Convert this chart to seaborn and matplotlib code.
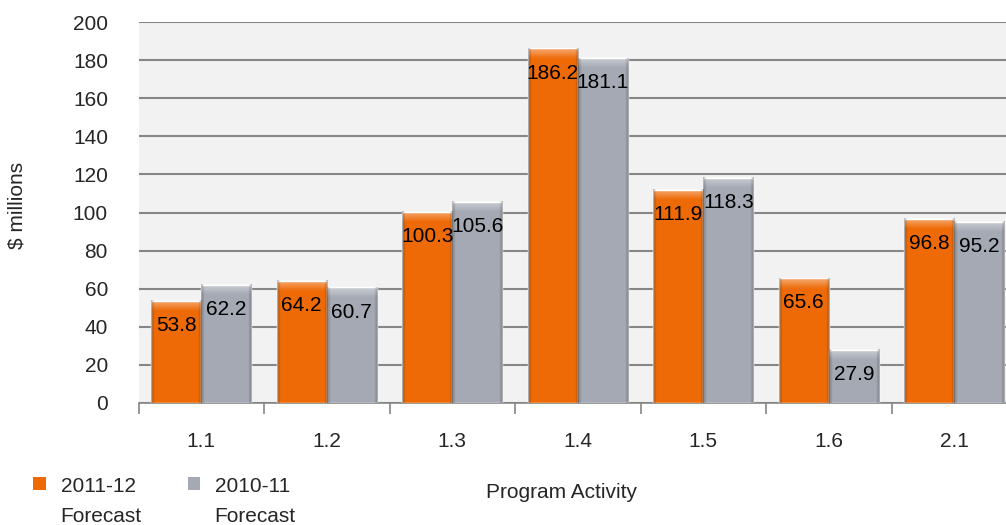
import numpy as np
import pandas as pd
import seaborn as sns
import matplotlib.pyplot as plt
from matplotlib.patches import Patch

activities = ['1.1', '1.2', '1.3', '1.4', '1.5', '1.6', '2.1']
forecast_2011_12 = [53.8, 64.2, 100.3, 186.2, 111.9, 65.6, 96.8]
forecast_2010_11 = [62.2, 60.7, 105.6, 181.1, 118.3, 27.9, 95.2]
series = ['2011-12\nForecast', '2010-11\nForecast']
colors = ['#EE6A06', '#A4A9B3']

df = pd.DataFrame({
    'activity': activities * 2,
    'value': forecast_2011_12 + forecast_2010_11,
    'series': [series[0]] * len(activities) + [series[1]] * len(activities),
})

sns.set_style('white')
plt.rcParams['font.family'] = ['Liberation Sans', 'DejaVu Sans']

fig = plt.figure(figsize=(10.06, 5.25), dpi=100)
# axes runs past the right edge of the figure, like the source chart
ax = fig.add_axes([138.5 / 1006, 122 / 525, 7 * 125.5 / 1006, 381 / 525])
ax.set_facecolor('#F2F2F2')

sns.barplot(data=df, x='activity', y='value', hue='series', palette=colors,
            width=0.8, saturation=1, ax=ax, legend=False, zorder=3)

# bevel look: dark sides and light top face, clipped to every bar
for patch in ax.patches:
    x0, w, h = patch.get_x(), patch.get_width(), patch.get_height()
    nx = 60
    xs = np.linspace(0, 1, nx)
    edge = np.clip(1 - np.minimum(xs, 1 - xs) / 0.06, 0, 1)
    over = np.zeros((200, nx, 4))
    over[..., 3] = 0.35 * edge[None, :]
    ax.imshow(over, extent=[x0, x0 + w, 0, h], aspect='auto', origin='upper',
              clip_path=patch, zorder=4, interpolation='bilinear')
    top = 5.5
    ys = np.linspace(1, 0, 40)
    hi = np.zeros((40, nx, 4))
    hi[..., :3] = 1
    hi[..., 3] = 0.45 * ys[:, None] * (1 - edge[None, :] * 0.5)
    ax.imshow(hi, extent=[x0, x0 + w, h - top, h], aspect='auto', origin='upper',
              clip_path=patch, zorder=4, interpolation='bilinear')
    ax.text(x0 + w / 2, h - 13, f'{h:.1f}', ha='center', va='center',
            fontsize=15, color='black', zorder=5)

ax.set_xlim(-0.5, len(activities) - 0.5)
ax.set_ylim(0, 200)
ax.set_yticks(range(0, 201, 20))
ax.yaxis.grid(True, color='#868686', linewidth=1.5, zorder=0)
ax.set_axisbelow(True)
ax.tick_params(axis='y', left=False, length=0, labelsize=15, pad=22)
ax.set_xticks(np.arange(-0.5, len(activities) - 0.5), minor=True)
ax.tick_params(axis='x', which='minor', bottom=True, length=8, width=1.2,
               color='#868686')
ax.tick_params(axis='x', which='major', length=0, labelsize=15, pad=21)
for side in ['top', 'right', 'left']:
    ax.spines[side].set_visible(False)
ax.spines['bottom'].set_color('#868686')
ax.spines['bottom'].set_linewidth(1.2)
ax.set_xlabel('')
ax.set_ylabel('')

fig.text(17 / 1006, 1 - 205 / 525, '$ millions', rotation=90, ha='center',
         va='center', fontsize=15)
fig.text(561 / 1006, 1 - 492 / 525, 'Program Activity', ha='center',
         va='center', fontsize=15)

handles = [Patch(facecolor=c, edgecolor='none') for c in colors]
leg = fig.legend(handles, series, loc='upper left', bbox_to_anchor=(0.025, 0.108),
                 ncol=2, frameon=False, fontsize=15, handlelength=0.58,
                 handleheight=0.58, handletextpad=0.72, columnspacing=2.2,
                 borderaxespad=0, labelspacing=0.2)
for t in leg.get_texts():
    t.set_linespacing(1.75)
# put the square next to the first line of each label
for col in leg._legend_handle_box.get_children():
    for row in col.get_children():
        row.align = 'top'

fig.savefig('out.png', dpi=100)
